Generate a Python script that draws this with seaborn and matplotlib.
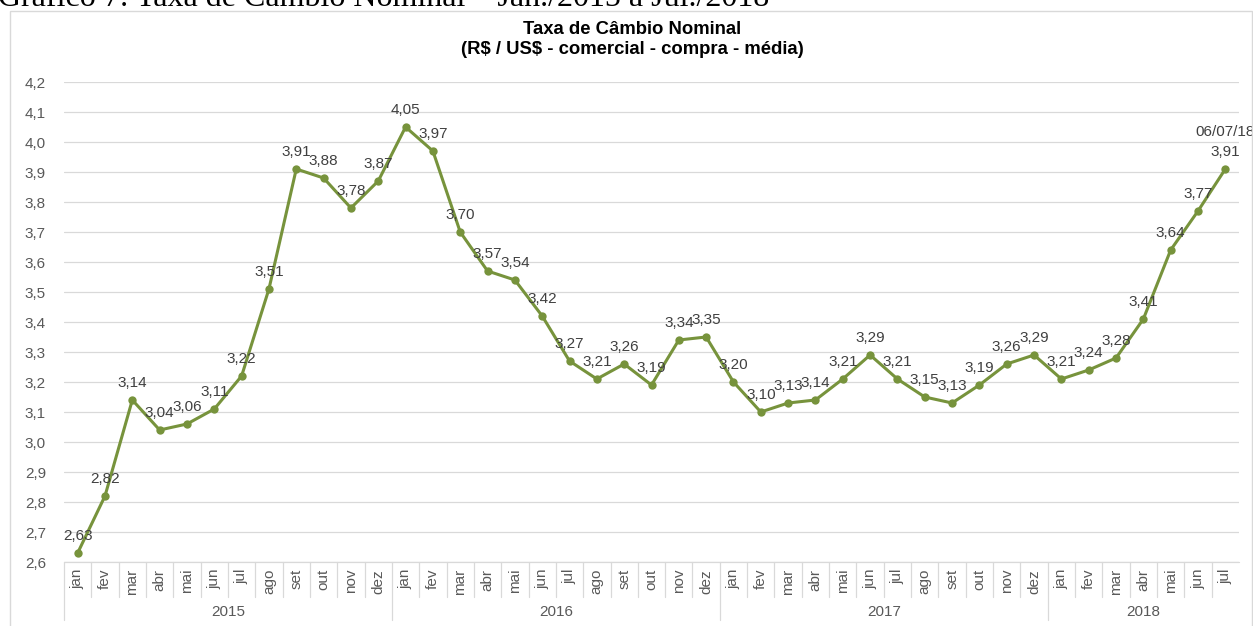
import numpy as np
import pandas as pd
import matplotlib
matplotlib.use("Agg")
import matplotlib.pyplot as plt
import matplotlib.transforms as mtransforms
from matplotlib.patches import Rectangle
import seaborn as sns

# ---- data ----
months = ["jan", "fev", "mar", "abr", "mai", "jun", "jul", "ago", "set", "out", "nov", "dez"]
years = ["2015", "2016", "2017", "2018"]
months_per_year = [12, 12, 12, 7]
values = [2.63, 2.82, 3.14, 3.04, 3.06, 3.11, 3.22, 3.51, 3.91, 3.88, 3.78, 3.87,
          4.05, 3.97, 3.70, 3.57, 3.54, 3.42, 3.27, 3.21, 3.26, 3.19, 3.34, 3.35,
          3.20, 3.10, 3.13, 3.14, 3.21, 3.29, 3.21, 3.15, 3.13, 3.19, 3.26, 3.29,
          3.21, 3.24, 3.28, 3.41, 3.64, 3.77, 3.91]
last_note = "06/07/18"
y_ticks = [2.6, 2.7, 2.8, 2.9, 3.0, 3.1, 3.2, 3.3, 3.4, 3.5, 3.6, 3.7, 3.8, 3.9, 4.0, 4.1, 4.2]
caption = "Gráfico 7: Taxa de Câmbio Nominal – Jan./2015 a Jul./2018"
title1 = "Taxa de Câmbio Nominal"
title2 = "(R\\$ / US\\$ - comercial - compra - média)"

month_labels = []
for n in months_per_year:
    month_labels += months[:n]

df = pd.DataFrame({"idx": np.arange(len(values)), "valor": values})

sns.set_theme(style="white")
plt.rcParams["font.family"] = ["Liberation Sans", "DejaVu Sans"]

W, H = 1253, 626
fig = plt.figure(figsize=(W / 100, H / 100), dpi=100)

# chart border
fig.patches.append(Rectangle((10 / W, -0.05), (1252 - 10) / W, (H - 11) / H + 0.05,
                             transform=fig.transFigure, fill=False,
                             edgecolor="#D9D9D9", linewidth=1.0))

# caption (cut at top, as in the source)
fig.text(-2 / W, 1 - 6 / H, caption, family="Liberation Serif", fontsize=23,
         va="baseline", ha="left", color="black")

fig.text(632 / W, 1 - 30 / H, title1, ha="center", va="center",
         fontsize=13.3, fontweight="bold", color="black")
fig.text(632 / W, 1 - 50 / H, title2, ha="center", va="center",
         fontsize=13.3, fontweight="bold", color="black")

ax = fig.add_axes([64 / W, 1 - 562 / H, 1175 / W, 480 / H])
sns.lineplot(data=df, x="idx", y="valor", ax=ax, color="#77933C", linewidth=2.2,
             marker="o", markersize=6, markeredgewidth=0, markerfacecolor="#77933C")

ax.set_xlim(-0.5, len(values) - 0.5)
ax.set_ylim(2.6, 4.2)
ax.set_yticks(y_ticks)
ax.set_yticklabels([f"{t:.1f}".replace(".", ",") for t in y_ticks])
ax.yaxis.grid(True, color="#D9D9D9", linewidth=0.9)
ax.set_axisbelow(True)
for s in ax.spines.values():
    s.set_visible(False)
ax.tick_params(axis="y", length=0, pad=13, labelsize=11, labelcolor="#595959")
ax.set_xticks(df["idx"])
ax.set_xticklabels(month_labels, rotation=90, va="top", ha="center")
ax.tick_params(axis="x", length=0, pad=5, labelsize=11, labelcolor="#595959")
ax.set_xlabel("")
ax.set_ylabel("")

# data labels
for i, v in enumerate(values):
    ax.annotate(f"{v:.2f}".replace(".", ","), (i, v), xytext=(0, 12),
                textcoords="offset points", ha="center", va="center",
                fontsize=11, color="#404040", annotation_clip=False)
ax.annotate(last_note, (len(values) - 1, values[-1]), xytext=(0, 27),
            textcoords="offset points", ha="center", va="center",
            fontsize=11, color="#404040", annotation_clip=False)

# category separators
trans = mtransforms.blended_transform_factory(ax.transData, ax.transAxes)
ax.plot([-0.5, len(values) - 0.5], [0, 0], transform=trans, color="#D9D9D9",
        lw=0.9, clip_on=False)
year_bounds = np.concatenate([[0], np.cumsum(months_per_year)])
for k in range(len(values)):
    x = k - 0.5
    is_year = k in year_bounds
    ax.plot([x, x], [0, -58 / 480 if is_year else -35 / 480], transform=trans,
            color="#D9D9D9", lw=0.9, clip_on=False)
for yi, y in enumerate(years):
    center = (year_bounds[yi] + year_bounds[yi + 1] - 1) / 2
    ax.text(center, -50 / 480, y, transform=trans, ha="center", va="center",
            fontsize=11, color="#595959")

fig.savefig("out.png", dpi=100)
